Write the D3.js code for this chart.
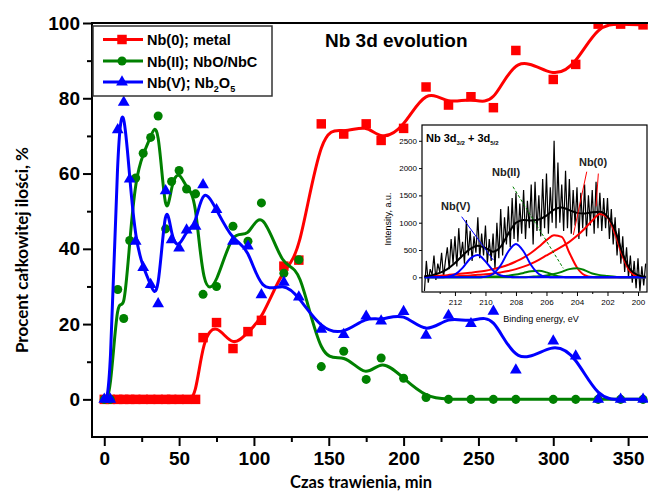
<!DOCTYPE html>
<html>
<head>
<meta charset="utf-8">
<script src="https://cdn.jsdelivr.net/npm/d3@7"></script>
<style>
body { margin: 0; background: #fff; }
svg { display: block; }
text { font-family: "Liberation Sans", Arial, sans-serif; }
</style>
</head>
<body>
<svg id="vis_svg" width="648" height="493"></svg>
<script>
// main chart data
let times = [0, 4, 9, 13, 17, 21, 26, 31, 36, 41, 45, 50, 55, 61, 66, 75, 86, 96, 105, 120,
    130, 145, 160, 175, 185, 200, 215, 230, 245, 260, 275, 300, 315, 330, 345, 360];
let nb0Values = [0, 0, 0, 0, 0, 0, 0, 0, 0, 0, 0, 0, 0, 0, 16.4, 20.4, 13.5, 18, 21, 35.4,
    37, 73.2, 70.5, 73.2, 68.8, 72, 83, 78.2, 80.4, 77.5, 92.7, 85, 89, 99.7, 99.7, 99.5];
let nb2Values = [0, 0, 29.2, 21.5, 42.2, 58.8, 65.4, 69.6, 75.3, 45.3, 57.9, 60.8, 55.9, 54.6, 27.9, 30, 46, 42, 52.2, 33.5,
    37.1, 8.7, 12.8, 5.3, 11, 5.6, 0.5, 0, 0, 0, 0, 0, 0, 0, 0, 0];
let nb5Values = [0, 0, 71.6, 78.9, 58.5, 42, 35, 30.5, 25.4, 55.4, 42.4, 40.2, 45, 46, 57, 50.4, 42, 40.7, 27.8, 31.1,
    27.2, 18.6, 17.2, 22.1, 20.8, 23.3, 17, 22.3, 20.1, 23.4, 7.8, 15.5, 11.5, 0, 0, 0];
let xTicks = [0, 50, 100, 150, 200, 250, 300, 350];
let xMinorTicks = [25, 75, 125, 175, 225, 275, 325];
let yTicks = [0, 20, 40, 60, 80, 100];
let yMinorTicks = [10, 30, 50, 70, 90];

// inset: XPS spectrum, Nb 3d
let energies = [214, 213.5, 213, 212.5, 212, 211.5, 211, 210.5, 210, 209.5, 209, 208.5, 208, 207.5, 207,
    206.5, 206, 205.5, 205, 204.5, 204, 203.5, 203, 202.5, 202, 201.5, 201, 200.5, 200, 199.5];
let envelope = [20, 40, 80, 150, 260, 400, 520, 580, 540, 470, 560, 800, 1000, 1050, 1040,
    1060, 1130, 1240, 1280, 1230, 1180, 1170, 1190, 1200, 1110, 860, 430, 140, 40, 10];
let nbVPeakA = [0, 0, 0, 10, 52, 172, 342, 410, 291, 123, 32, 9, 0, 0, 0,
    0, 0, 0, 0, 0, 0, 0, 0, 0, 0, 0, 0, 0, 0, 0];
let nbVPeakB = [0, 0, 0, 0, 0, 0, 0, 0, 10, 61, 220, 473, 610, 473, 220,
    61, 10, 0, 0, 0, 0, 0, 0, 0, 0, 0, 0, 0, 0, 0];
let nbIIPeakA = [0, 0, 0, 0, 0, 0, 0, 0, 10, 15, 20, 30, 50, 80, 110,
    118, 90, 40, 10, 0, 0, 0, 0, 0, 0, 0, 0, 0, 0, 0];
let nbIIPeakB = [0, 0, 0, 0, 0, 0, 0, 0, 0, 0, 0, 0, 0, 0, 10,
    20, 35, 60, 100, 150, 165, 130, 70, 40, 25, 10, 0, 0, 0, 0];
let nb0PeakA = [15, 20, 30, 40, 55, 70, 85, 100, 120, 150, 185, 230, 290, 360, 450,
    560, 680, 770, 740, 450, 180, 40, 5, 0, 0, 0, 0, 0, 0, 0];
let nb0PeakB = [5, 8, 10, 15, 20, 28, 35, 45, 55, 70, 90, 115, 150, 195, 250,
    320, 400, 480, 560, 650, 760, 890, 1040, 1160, 1100, 800, 380, 100, 15, 0];
// raw counts, every 0.125 eV from 214 down to 199.5
let rawStart = 214, rawStep = 0.125;
let rawCounts = [-250, 300, -100, 150, 50, 400, -50, 250, 100, 450, 0, 300,
    550, 150, 700, 250, 750, 200, 900, 350, 650, 250, 1050, 400,
    850, 300, 750, 450, 1100, 350, 800, 400, 950, 250, 700, 300,
    800, 150, 1000, 350, 1250, 400, 1100, 600, 1300, 550, 1450, 700,
    1550, 650, 1350, 800, 1600, 700, 1400, 900, 1700, 600, 1750, 850,
    1500, 750, 1800, 900, 1900, 800, 1650, 1000, 2500, 900, 2100, 1000,
    1700, 850, 1950, 900, 1800, 800, 1600, 950, 1650, 700, 1550, 900,
    1700, 750, 1500, 950, 1600, 800, 1750, 900, 1550, 850, 1450, 900,
    1450, 700, 1250, 600, 1100, 400, 900, 250, 750, 100, 550, 0,
    400, -100, 300, -200, 350, -250, 200, -150, 250];
let insetYTicks = [0, 500, 1000, 1500, 2000, 2500];
let insetXTicks = [212, 210, 208, 206, 204, 202, 200];
let insetXMinor = [213, 211, 209, 207, 205, 203, 201];

let svg = d3.select('svg#vis_svg');

let x = d3.scaleLinear().domain([-8.2, 363.3]).range([92, 648]);
let y = d3.scaleLinear().domain([-10, 100]).range([437, 23]);

let series = [
    {name: 'Nb(0); metal', values: nb0Values, color: '#ff0000', symbol: d3.symbolSquare, size: 90},
    {name: 'Nb(II); NbO/NbC', values: nb2Values, color: '#008000', symbol: d3.symbolCircle, size: 64},
    {name: 'Nb(V); Nb2O5', values: nb5Values, color: '#0000ff', symbol: d3.symbolTriangle, size: 60}
];

svg.append('clipPath').attr('id', 'plotclip')
    .append('rect').attr('x', 92).attr('y', 23).attr('width', 556).attr('height', 414);

let plot = svg.append('g').attr('clip-path', 'url(#plotclip)');

let line = d3.line()
    .curve(d3.curveBasis)
    .x(d => x(d[0]))
    .y(d => y(d[1]));

series.forEach(function(s) {
    let pts = times.map((t, i) => [t, s.values[i]]);
    plot.append('path')
        .attr('d', line(pts))
        .attr('fill', 'none')
        .attr('stroke', s.color)
        .attr('stroke-width', 3);
    plot.append('g').selectAll('path')
        .data(pts)
        .enter()
        .append('path')
        .attr('d', d3.symbol(s.symbol, s.size))
        .attr('transform', d => 'translate(' + x(d[0]) + ',' + y(d[1]) + ')')
        .attr('fill', s.color);
});

// axes
svg.append('g')
    .attr('transform', 'translate(0,437)')
    .call(d3.axisBottom(x).tickValues(xTicks).tickSize(9).tickPadding(6));
svg.append('g')
    .attr('transform', 'translate(0,437)')
    .call(d3.axisBottom(x).tickValues(xMinorTicks).tickSize(5).tickFormat(''));
svg.append('g')
    .attr('transform', 'translate(92,0)')
    .call(d3.axisLeft(y).tickValues(yTicks).tickSize(9).tickPadding(3));
svg.append('g')
    .attr('transform', 'translate(92,0)')
    .call(d3.axisLeft(y).tickValues(yMinorTicks).tickSize(5).tickFormat(''));

svg.selectAll('.domain').remove();
svg.selectAll('.tick line').attr('stroke', '#000').attr('stroke-width', 2);
svg.selectAll('.tick text')
    .attr('font-family', '"Liberation Sans", Arial, sans-serif')
    .attr('font-size', 19)
    .attr('font-weight', 'bold')
    .attr('fill', '#000');

// frame
svg.append('path')
    .attr('d', 'M92,23H648M92,22V438M91,437H648')
    .attr('stroke', '#000')
    .attr('stroke-width', 2)
    .attr('fill', 'none');

// titles
svg.append('text')
    .attr('x', 361).attr('y', 488)
    .attr('text-anchor', 'middle')
    .style('font-family', 'Lato, "Open Sans", sans-serif')
    .attr('font-size', 16.5).attr('font-weight', 'bold')
    .text('Czas trawienia, min');
svg.append('text')
    .attr('transform', 'translate(28,250) rotate(-90)')
    .attr('text-anchor', 'middle')
    .style('font-family', 'Lato, "Open Sans", sans-serif')
    .attr('font-size', 17).attr('font-weight', 'bold')
    .text('Procent całkowitej ilości, %');
svg.append('text')
    .attr('x', 325).attr('y', 47)
    .attr('font-size', 19).attr('font-weight', 'bold')
    .text('Nb 3d evolution');

// legend
let legend = svg.append('g');
legend.append('rect')
    .attr('x', 93).attr('y', 26).attr('width', 179).attr('height', 70)
    .attr('fill', '#fff').attr('stroke', '#333').attr('stroke-width', 1.5);
let legendRows = [39.5, 61, 82];
series.forEach(function(s, i) {
    let g = legend.append('g').attr('transform', 'translate(0,' + legendRows[i] + ')');
    g.append('line').attr('x1', 103).attr('x2', 143)
        .attr('stroke', s.color).attr('stroke-width', 3);
    g.append('path').attr('d', d3.symbol(s.symbol, s.size))
        .attr('transform', 'translate(122,0)').attr('fill', s.color);
    let t = g.append('text').attr('x', 147).attr('y', 5.5)
        .attr('font-size', 14.5).attr('font-weight', 'bold');
    if (i === 2) {
        t.append('tspan').text('Nb(V); Nb');
        t.append('tspan').attr('font-size', 9).attr('dy', 4).text('2');
        t.append('tspan').attr('dy', -4).text('O');
        t.append('tspan').attr('font-size', 9).attr('dy', 4).text('5');
    } else {
        t.text(s.name);
    }
});

// inset
let ix = d3.scaleLinear().domain([214.16, 199.41]).range([422, 647]);
let iy = d3.scaleLinear().domain([-269, 2789]).range([292, 125]);
let inset = svg.append('g');
inset.append('rect')
    .attr('x', 422).attr('y', 125).attr('width', 225).attr('height', 167)
    .attr('fill', '#fff');
inset.append('clipPath').attr('id', 'insetclip')
    .append('rect').attr('x', 422).attr('y', 125).attr('width', 225).attr('height', 167);
let ip = inset.append('g').attr('clip-path', 'url(#insetclip)');

let rawLine = d3.line()
    .x((d, i) => ix(rawStart - i * rawStep))
    .y(d => iy(d));
ip.append('path').attr('d', rawLine(rawCounts))
    .attr('fill', 'none').attr('stroke', '#000').attr('stroke-width', 1.2);

let specLine = d3.line()
    .curve(d3.curveMonotoneX)
    .x((d, i) => ix(energies[i]))
    .y(d => iy(d));
let components = [
    {values: nb0PeakA, color: '#ff0000'},
    {values: nb0PeakB, color: '#ff0000'},
    {values: nbIIPeakA, color: '#008000'},
    {values: nbIIPeakB, color: '#008000'},
    {values: nbVPeakA, color: '#0000ff'},
    {values: nbVPeakB, color: '#0000ff'}
];
components.forEach(function(c) {
    ip.append('path').attr('d', specLine(c.values))
        .attr('fill', 'none').attr('stroke', c.color).attr('stroke-width', 2);
});
ip.append('path').attr('d', specLine(envelope))
    .attr('fill', 'none').attr('stroke', '#000').attr('stroke-width', 2);

// pointers from the peak labels
let pointers = [
    {from: [211.56, 1110], to: [209.49, 317], color: '#0000ff', dash: null},
    {from: [208.2, 1660], to: [204.9, 165], color: '#008000', dash: '3,2'},
    {from: [203.36, 1934], to: [204.24, 775], color: '#ff0000', dash: null},
    {from: [202.6, 1900], to: [202.75, 1300], color: '#ff0000', dash: null}
];
pointers.forEach(function(p) {
    ip.append('line')
        .attr('x1', ix(p.from[0])).attr('y1', iy(p.from[1]))
        .attr('x2', ix(p.to[0])).attr('y2', iy(p.to[1]))
        .attr('stroke', p.color).attr('stroke-width', 1)
        .attr('stroke-dasharray', p.dash);
});
let peakLabels = [
    {text: 'Nb(V)', e: 211.95, i: 1230},
    {text: 'Nb(II)', e: 208.65, i: 1850},
    {text: 'Nb(0)', e: 202.95, i: 2040}
];
inset.selectAll('.peaklabel')
    .data(peakLabels)
    .enter()
    .append('text')
    .attr('x', d => ix(d.e)).attr('y', d => iy(d.i))
    .attr('text-anchor', 'middle')
    .attr('font-size', 11).attr('font-weight', 'bold')
    .attr('fill', '#222')
    .text(d => d.text);

let ititle = inset.append('text').attr('x', 426).attr('y', 142)
    .attr('font-size', 11).attr('font-weight', 'bold');
ititle.append('tspan').text('Nb 3d');
ititle.append('tspan').attr('font-size', 6).attr('dy', 3).text('3/2');
ititle.append('tspan').attr('dy', -3).text(' + 3d');
ititle.append('tspan').attr('font-size', 6).attr('dy', 3).text('5/2');

inset.append('g').attr('transform', 'translate(422,0)')
    .call(d3.axisLeft(iy).tickValues(insetYTicks).tickSize(3).tickPadding(2).tickFormat(d3.format('d')));
inset.append('g').attr('transform', 'translate(0,292)')
    .call(d3.axisBottom(ix).tickValues(insetXTicks).tickSize(4).tickPadding(3));
inset.append('g').attr('transform', 'translate(0,292)')
    .call(d3.axisBottom(ix).tickValues(insetXMinor).tickSize(2).tickFormat(''));
inset.selectAll('.domain').remove();
inset.selectAll('.tick text')
    .attr('font-family', '"Liberation Sans", Arial, sans-serif')
    .attr('font-size', 8).attr('fill', '#000');
inset.selectAll('.tick line').attr('stroke', '#000');
inset.append('rect')
    .attr('x', 422).attr('y', 125).attr('width', 225).attr('height', 167)
    .attr('fill', 'none').attr('stroke', '#000').attr('stroke-width', 1.2);
inset.append('text')
    .attr('transform', 'translate(391,219) rotate(-90)')
    .attr('text-anchor', 'middle')
    .attr('font-size', 9)
    .text('Intensity, a.u.');
inset.append('text')
    .attr('x', 541).attr('y', 322)
    .attr('text-anchor', 'middle')
    .attr('font-size', 9)
    .text('Binding energy, eV');
</script>
</body>
</html>
